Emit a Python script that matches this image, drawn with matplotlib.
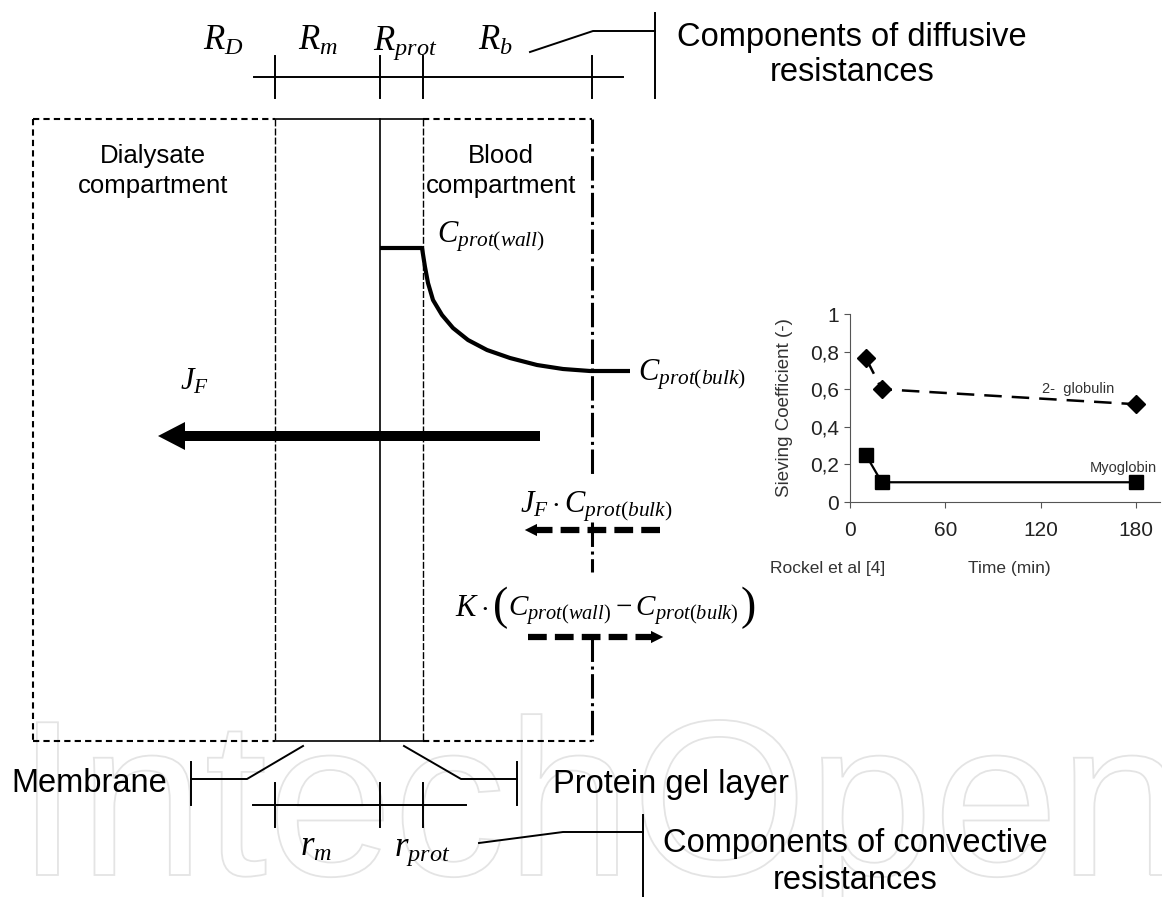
import numpy as np
import matplotlib.pyplot as plt
import matplotlib.transforms as mtransforms
from matplotlib.textpath import TextPath
from matplotlib.patches import PathPatch
from matplotlib.font_manager import FontProperties

plt.rcParams['font.family'] = ['Liberation Sans', 'DejaVu Sans']
plt.rcParams['mathtext.fontset'] = 'custom'
plt.rcParams['mathtext.it'] = 'Liberation Serif:italic'
plt.rcParams['mathtext.rm'] = 'Liberation Serif'

# inset data: sieving coefficient vs time (Rockel et al)
time_glob = [10, 20, 180]
sc_glob = [0.765, 0.60, 0.52]
err_glob = [0.025, 0.0, 0.018]
time_myo = [10, 20, 180]
sc_myo = [0.25, 0.105, 0.105]
x_ticks = [0, 60, 120, 180]
y_ticks = [0, 0.2, 0.4, 0.6, 0.8, 1.0]
y_ticklabels = ['0', '0,2', '0,4', '0,6', '0,8', '1']

# concentration profile across the boundary layer (diagram, pixel units)
prof_x = [380, 422, 425, 428, 433, 442, 453, 468, 487, 510, 537, 563, 590, 630]
prof_y = [248, 248, 267, 283, 300, 315, 328, 340, 350, 358, 365, 369, 371, 371]

W, H = 1162, 897
fig = plt.figure(figsize=(W / 100, H / 100), dpi=100)
ax = fig.add_axes([0, 0, 1, 1])
ax.set_xlim(0, W)
ax.set_ylim(H, 0)
ax.axis('off')

# watermark
tp = TextPath((0, 0), 'IntechOpen', size=1, prop=FontProperties(family='Liberation Sans'))
tr = mtransforms.Affine2D().scale(226, -222).translate(16, 875)
ax.add_patch(PathPatch(tr.transform_path(tp), facecolor='none', edgecolor='#e4e4e4', lw=1.3, zorder=0))

x_dial, x_mem, x_mid, x_gel, x_bulk = 33, 275, 380, 423, 592
y_top, y_bot = 119, 741
box = dict(color='black', lw=1.5, ls=(0, (3, 2)))
fine = dict(color='black', lw=1.0, ls=(0, (5, 1.5)))
solid = dict(color='black', lw=1.2)

ax.plot([x_dial, x_mem], [y_top, y_top], **box)
ax.plot([x_dial, x_mem], [y_bot, y_bot], **box)
ax.plot([x_dial, x_dial], [y_top, y_bot], **box)
ax.plot([x_gel, x_bulk], [y_top, y_top], **box)
ax.plot([x_gel, x_bulk], [y_bot, y_bot], **box)
ax.plot([x_mem, x_gel], [y_top, y_top], **solid)
ax.plot([x_mem, x_gel], [y_bot, y_bot], **solid)
ax.plot([x_mem, x_mem], [y_top, y_bot], **fine)
ax.plot([x_gel, x_gel], [y_top, y_bot], **fine)
ax.plot([x_mid, x_mid], [y_top, y_bot], **solid)
dd = dict(color='black', lw=2.2, ls=(0, (8, 1.5, 1, 1.5)))
for a, b in [(y_top, 476), (522, 572), (637, y_bot)]:
    ax.plot([x_bulk, x_bulk], [a, b], **dd)

ax.text(153, 171, 'Dialysate\ncompartment', ha='center', va='center', fontsize=18.5, linespacing=1.3)
ax.text(501, 171, 'Blood\ncompartment', ha='center', va='center', fontsize=18.5, linespacing=1.3)

ax.plot(prof_x, prof_y, color='black', lw=3, solid_capstyle='butt', solid_joinstyle='round')
ax.text(437, 243, r'$C_{prot\mathit{(}wall\mathit{)}}$', fontsize=22, va='baseline')
ax.text(638, 380, r'$C_{prot\mathit{(}bulk\mathit{)}}$', fontsize=22, va='baseline')

# permeate flux arrow
ax.arrow(540, 436, -382, 0, width=10, head_width=28, head_length=27,
         length_includes_head=True, color='black', lw=0)
ax.text(180, 390, r'$J_F$', fontsize=22, va='baseline')

dash_arrow = dict(color='black', lw=4.5, ls=(0, (3, 1.3)), solid_capstyle='butt')
ax.text(520, 513, r'$J_F\cdot C_{prot(bulk)}$', fontsize=22, va='baseline')
ax.plot([660, 533], [530, 530], **dash_arrow)
ax.annotate('', xy=(522, 530), xytext=(540, 530),
            arrowprops=dict(arrowstyle='-|>', color='black', lw=0, mutation_scale=22))
ax.text(455, 616, r'$K\cdot$', fontsize=22, va='baseline')
ax.text(493, 619, '(', family='Liberation Serif', fontsize=33, va='baseline')
ax.text(508, 616, r'$C_{prot(wall)}-C_{prot(bulk)}$', fontsize=21, va='baseline')
ax.text(741, 619, ')', family='Liberation Serif', fontsize=33, va='baseline')
ax.plot([528, 655], [637, 637], **dash_arrow)
ax.annotate('', xy=(666, 637), xytext=(648, 637),
            arrowprops=dict(arrowstyle='-|>', color='black', lw=0, mutation_scale=22))

# diffusive resistances scale
ax.plot([254, 623], [77, 77], color='black', lw=1.4)
for xt in [x_mem, x_mid, x_gel, x_bulk]:
    ax.plot([xt, xt], [56, 98], color='black', lw=1.4)
for lab, xl in [(r'$R_D$', 203), (r'$R_m$', 298), (r'$R_{prot}$', 373), (r'$R_b$', 478)]:
    ax.text(xl, 50, lab, fontsize=25, va='baseline')
ax.plot([530, 593, 655], [52, 31, 31], color='black', lw=1.4)
ax.plot([655, 655], [13, 98], color='black', lw=1.4)
ax.text(852, 55, 'Components of diffusive\nresistances', ha='center', va='center', fontsize=23.5, linespacing=1.15)

# membrane / gel layer labels
ax.text(11, 783, 'Membrane', ha='left', va='center', fontsize=23.5)
ax.plot([191, 191], [762, 805], color='black', lw=1.4)
ax.plot([191, 247, 303], [779, 779, 746], color='black', lw=1.4)
ax.plot([404, 461, 517], [746, 779, 779], color='black', lw=1.4)
ax.plot([517, 517], [762, 805], color='black', lw=1.4)
ax.text(553, 785, 'Protein gel layer', ha='left', va='center', fontsize=23.5)

# convective resistances scale
ax.plot([253, 466], [805, 805], color='black', lw=1.4)
for xt in [x_mem, x_mid, x_gel]:
    ax.plot([xt, xt], [783, 827], color='black', lw=1.4)
ax.text(300, 856, r'$r_m$', fontsize=25, va='baseline')
ax.text(394, 856, r'$r_{prot}$', fontsize=25, va='baseline')
ax.plot([479, 563, 643], [843, 832, 832], color='black', lw=1.4)
ax.plot([643, 643], [815, 897], color='black', lw=1.4)
ax.text(855, 862, 'Components of convective\nresistances', ha='center', va='center', fontsize=23.5, linespacing=1.25)

# inset chart
ins = fig.add_axes([850 / W, 1 - 502 / H, 310 / W, 188 / H])
ins.set_facecolor('none')
ins.errorbar(time_glob, sc_glob, yerr=[[0] * 3, err_glob], color='black', ls=(0, (7, 4)), lw=1.8,
             marker='D', ms=9, capsize=3, elinewidth=1)
ins.plot(time_myo, sc_myo, color='black', lw=1.6, marker='s', ms=10.5)
ins.set_xlim(0, 195)
ins.set_ylim(0, 1)
ins.set_xticks(x_ticks)
ins.set_yticks(y_ticks)
ins.set_yticklabels(y_ticklabels)
ins.spines['top'].set_visible(False)
ins.spines['right'].set_visible(False)
ins.spines['left'].set_bounds(0, 1)
for s in ['left', 'bottom']:
    ins.spines[s].set_color('#555555')
ins.tick_params(labelsize=15, direction='out', length=4, color='#555555', labelcolor='#222222')
ins.tick_params(axis='x', pad=10)
ins.tick_params(axis='y', pad=4)
ins.set_ylabel('Sieving Coefficient (-)', fontsize=13.5, labelpad=12, color='#333333')
ins.text(121, 0.58, '2-  globulin', fontsize=10.5, ha='left', color='#333333')
ins.text(193, 0.16, 'Myoglobin', fontsize=10.5, ha='right', color='#333333')
ax.text(770, 568, 'Rockel et al [4]', fontsize=12.5, va='center', color='#333333')
ax.text(1009, 568, 'Time (min)', fontsize=12.5, va='center', ha='center', color='#333333')

fig.savefig('out.png', dpi=100)
